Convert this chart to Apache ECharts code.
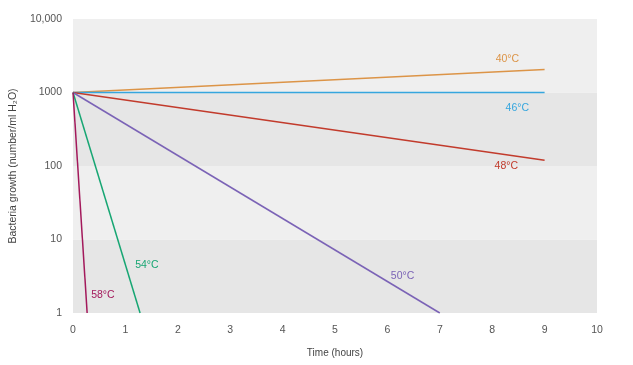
<!DOCTYPE html>
<html><head><meta charset="utf-8">
<script src="https://cdn.jsdelivr.net/npm/echarts@6/dist/echarts.min.js"></script>
<style>html,body{margin:0;padding:0;background:#fff}#c{width:633px;height:365px}</style>
</head><body><div id="c"></div>
<script>
var seriesNames = ['40°C','46°C','48°C','50°C','54°C','58°C'];
var colors = ['#dc9447','#36a6de','#c23b2c','#7b63b6','#17a673','#a3195b'];
// [time, value] pairs
var s40 = [[0,1000],[9,2050]];
var s46 = [[0,1000],[9,1000]];
var s48 = [[0,1000],[9,120]];
var s50 = [[0,1000],[7,1]];
var s54 = [[0,1000],[1.28,1]];
var s58 = [[0,1000],[0.27,1]];
var yTicks = {1:'1',10:'10',100:'100',1000:'1000',10000:'10,000'};
var labelPos = [[8.29,2810],[8.48,605],[8.27,99],[6.29,3.14],[1.41,4.43],[0.57,1.73]];
var data = [s40,s46,s48,s50,s54,s58];

var font = 'Liberation Sans, Arial, sans-serif';
var chart = echarts.init(document.getElementById('c'));
chart.setOption({
  animation:false,
  grid:{left:72,right:36,top:19,bottom:52},
  xAxis:{type:'value',min:0,max:10,interval:1,
    axisLine:{show:false},axisTick:{show:false},splitLine:{show:false},
    axisLabel:{color:'#555',fontSize:10.5,fontFamily:font,margin:12},
    name:'Time (hours)',nameLocation:'middle',nameGap:35,
    nameTextStyle:{color:'#444',fontSize:10,fontFamily:font}},
  yAxis:{type:'log',logBase:10,min:1,max:10000,
    axisLine:{show:false},axisTick:{show:false},splitLine:{show:false},
    splitArea:{show:true,areaStyle:{color:['#e6e6e6','#efefef']}},
    axisLabel:{color:'#555',fontSize:10.5,fontFamily:font,margin:11,
      formatter:function(v){return yTicks[Math.round(v)]||'';}},
    name:'Bacteria growth (number/ml H₂O)',nameLocation:'middle',nameGap:46,
    nameTextStyle:{color:'#444',fontSize:10.5,fontFamily:font}},
  series:data.map(function(d,i){
    return {type:'line',name:seriesNames[i],data:d,symbol:'none',
      lineStyle:{color:colors[i],width:1.5},
      markPoint:{symbol:'circle',symbolSize:0,silent:true,
        label:{show:true,position:'inside',formatter:seriesNames[i],color:colors[i],fontSize:10.5,fontFamily:font},
        data:[{coord:labelPos[i]}]}};
  })
});
</script></body></html>
